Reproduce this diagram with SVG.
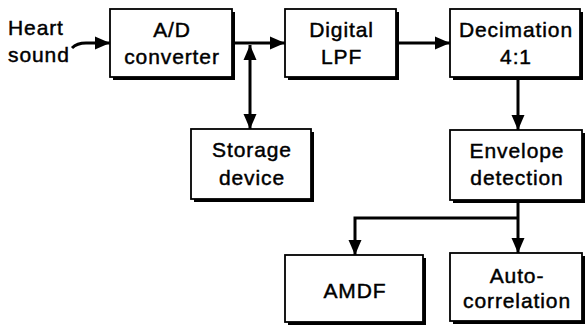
<svg xmlns="http://www.w3.org/2000/svg" width="588" height="327" viewBox="0 0 588 327">
<style>
  .box { fill: #fff; stroke: #000; stroke-width: 1.8; }
  .shadow { fill: #000; }
  .lbl { font-family: "Liberation Sans", Arial, sans-serif; font-size: 21px; letter-spacing: 0.9px; fill: #000; stroke: #000; stroke-width: 0.45; text-anchor: middle; }
  .conn { fill: none; stroke: #000; stroke-width: 3; }
</style>
<defs>
  <marker id="arr" markerUnits="userSpaceOnUse" markerWidth="16" markerHeight="14" refX="15" refY="6.5" orient="auto-start-reverse" viewBox="0 0 16 13">
    <path d="M0,0 L15,6.5 L0,13 Z" fill="#000"/>
  </marker>
</defs>

<g id="heart-sound">
  <text class="lbl" x="8" y="35" style="text-anchor:start">Heart</text>
  <text class="lbl" x="8" y="62" style="text-anchor:start">sound</text>
</g>

<g id="ad">
  <rect class="shadow" x="113" y="12" width="122" height="68"/>
  <rect class="box" x="110" y="9" width="122" height="68"/>
  <text class="lbl" x="172" y="37">A/D</text>
  <text class="lbl" x="172" y="64">converter</text>
</g>

<g id="lpf">
  <rect class="shadow" x="288" y="12" width="111" height="68"/>
  <rect class="box" x="285" y="9" width="111" height="68"/>
  <text class="lbl" x="341.5" y="37">Digital</text>
  <text class="lbl" x="341.5" y="64">LPF</text>
</g>

<g id="decimation">
  <rect class="shadow" x="453" y="12" width="130" height="68"/>
  <rect class="box" x="450" y="9" width="130" height="68"/>
  <text class="lbl" x="516" y="37">Decimation</text>
  <text class="lbl" x="516" y="64">4:1</text>
</g>

<g id="storage">
  <rect class="shadow" x="194" y="132" width="120" height="70"/>
  <rect class="box" x="191" y="129" width="120" height="70"/>
  <text class="lbl" x="252" y="157">Storage</text>
  <text class="lbl" x="252" y="185">device</text>
</g>

<g id="envelope">
  <rect class="shadow" x="453" y="133" width="132" height="70"/>
  <rect class="box" x="450" y="130" width="132" height="70"/>
  <text class="lbl" x="517" y="158">Envelope</text>
  <text class="lbl" x="517" y="185">detection</text>
</g>

<g id="amdf">
  <rect class="shadow" x="288" y="258" width="138" height="67"/>
  <rect class="box" x="285" y="255" width="138" height="67"/>
  <text class="lbl" x="355" y="298">AMDF</text>
</g>

<g id="autocorrelation">
  <rect class="shadow" x="453" y="256" width="132" height="68"/>
  <rect class="box" x="450" y="253" width="132" height="68"/>
  <text class="lbl" x="517" y="283">Auto-</text>
  <text class="lbl" x="517" y="308">correlation</text>
</g>

<g id="connectors">
  <path class="conn" d="M72,48 C76,44 80,43 86,43 L110,43" marker-end="url(#arr)"/>
  <path class="conn" d="M235,43 L285,43" marker-end="url(#arr)"/>
  <path class="conn" d="M250,45 L250,129" marker-start="url(#arr)" marker-end="url(#arr)"/>
  <path class="conn" d="M399,43 L450,43" marker-end="url(#arr)"/>
  <path class="conn" d="M518,80 L518,130" marker-end="url(#arr)"/>
  <path class="conn" d="M518,203 L518,253" marker-end="url(#arr)"/>
  <path class="conn" d="M518,218 L355,218 L355,255" marker-end="url(#arr)"/>
</g>
</svg>
